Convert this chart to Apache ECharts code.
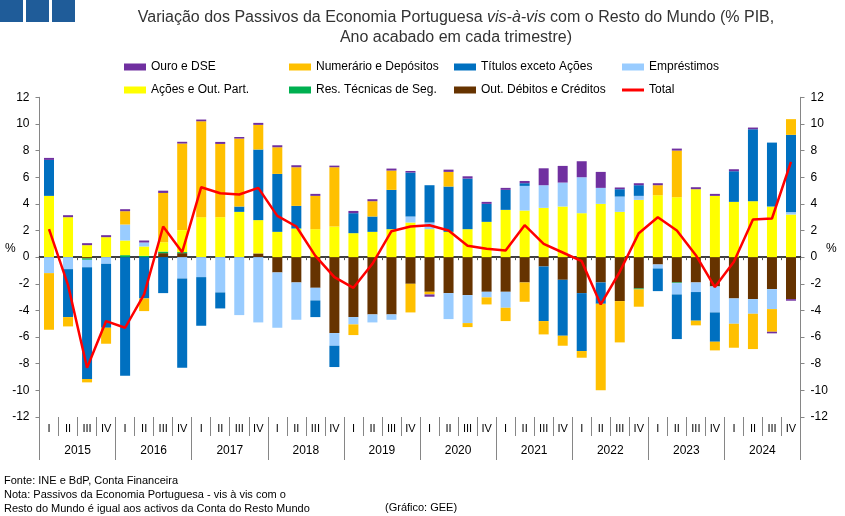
<!DOCTYPE html>
<html>
<head>
<meta charset="utf-8">
<script src="https://cdn.jsdelivr.net/npm/echarts@6/dist/echarts.min.js"></script>
<style>
  html, body { margin: 0; padding: 0; background: #fff; }
  #chart { width: 845px; height: 516px; }
</style>
</head>
<body>
<div id="chart"></div>
<script>
// trimestres e anos
const trimestres = [];
const anos = ['2015', '2016', '2017', '2018', '2019', '2020', '2021', '2022', '2023', '2024'];
anos.forEach(() => { trimestres.push('I', 'II', 'III', 'IV'); });

// valores (% PIB)
const outDebitos = [0, 0, -0.1, 0, 0, 0, 0.3, 0.3, 0, 0,
  0, 0.28, -1.15, -1.9, -2.3, -5.7, -4.5, -4.3, -4.3, -2.0,
  -2.6, -2.7, -2.85, -2.6, -2.6, -1.9, -0.7, -1.7, -2.7, -1.9,
  -3.3, -2.35, -0.55, -1.9, -1.9, -2.2, -3.1, -3.15, -2.4, -3.15];
const resTecnicas = [0, 0, -0.1, 0, 0.15, 0.1, 0.12, 0.08, 0, 0,
  0, 0, 0, 0, 0, 0, 0, 0, 0, 0,
  0, 0, 0, 0, 0, 0, 0, 0, 0, 0,
  0, -0.07, 0, -0.05, 0, 0, 0, 0, 0, 0];
const acoes = [4.6, 3.0, 0.9, 1.5, 1.1, 0.7, 0.7, 1.65, 3.0, 3.0,
  3.4, 2.5, 1.9, 2.15, 2.1, 2.3, 1.8, 1.9, 2.1, 2.6,
  2.1, 1.9, 2.1, 2.65, 3.55, 3.5, 3.7, 3.8, 3.3, 4.0,
  3.4, 4.3, 4.65, 4.5, 5.1, 4.6, 4.15, 4.2, 3.8, 3.2];
const emprestimos = [-1.2, -0.9, -0.55, -0.5, 1.2, 0.3, 0, -1.6, -1.5, -2.65,
  -4.35, -4.9, -4.15, -2.8, -0.95, -0.95, -0.55, -0.6, -0.4, 0.45,
  0.5, -1.95, -2.1, -0.42, -1.2, 1.85, 1.7, 1.8, 2.7, 1.2,
  1.15, 0.3, -0.3, -0.85, -0.72, -1.95, -1.9, -1.1, -1.5, 0.18];
const titulos = [2.7, -3.6, -8.4, -4.8, -8.9, -3.1, -2.7, -6.7, -3.65, -1.2,
  0.4, 5.3, 4.35, 1.7, -1.25, -1.6, 1.5, 1.15, 2.95, 3.3,
  2.8, 3.4, 3.8, 1.35, 1.5, 0.2, -4.1, -4.2, -4.35, -1.6,
  0.55, 0.8, -1.7, -3.35, -2.15, -2.2, 2.3, 5.4, 4.8, 5.8];
const numerario = [-4.25, -0.7, -0.25, -1.2, 1.0, -0.95, 3.7, 6.5, 7.2, 5.5,
  5.1, 1.85, 2.0, 2.9, 2.5, 4.45, -0.8, 1.15, 1.45, -2.15,
  -0.2, 1.1, -0.3, -0.53, -1.0, -1.45, -1.0, -0.75, -0.5, -6.5,
  -3.1, -1.3, 0.75, 3.5, -0.35, -0.65, -1.8, -2.65, -1.7, 1.18];
const ouro = [0.15, 0.15, 0.15, 0.15, 0.15, 0.15, 0.17, 0.13, 0.13, 0.15,
  0.12, 0.15, 0.15, 0.15, 0.15, 0.12, 0.17, 0.15, 0.15, 0.12,
  -0.17, 0.17, 0.17, 0.15, 0.15, 0.17, 1.27, 1.25, 1.2, 1.2,
  0.13, 0.15, 0.15, 0.15, 0.15, 0.15, 0.15, 0.13, -0.12, -0.12];
const total = [2.1, -2.1, -8.3, -4.8, -5.3, -2.8, 2.3, 0.37, 5.25, 4.8,
  4.7, 5.2, 3.1, 2.3, 0.1, -1.5, -2.3, -0.5, 1.95, 2.3,
  2.4, 2.0, 0.85, 0.63, 0.5, 2.4, 1.0, 0.35, -0.3, -3.55,
  -1.1, 1.8, 3.0, 2.0, 0.15, -2.25, -0.35, 2.83, 2.9, 7.15];

const chart = echarts.init(document.getElementById('chart'), null, { renderer: 'canvas' });

const fonte = 'Liberation Sans, Arial, sans-serif';
const cinza = '#868686';

//cria uma série de barras empilhadas
function barra(name, data, color) {
  return {
    name,
    type: 'bar',
    stack: 'p',
    data,
    barWidth: 10,
    itemStyle: { color },
    emphasis: { disabled: true }
  };
}

//eixo y (esquerda/direita)
function eixoY(position) {
  return {
    type: 'value',
    position,
    min: -12,
    max: 12,
    interval: 2,
    axisLine: { show: true, lineStyle: { color: cinza } },
    axisTick: { show: true, length: 4, lineStyle: { color: cinza } },
    axisLabel: { color: '#000', fontSize: 12, fontFamily: fonte, margin: 10 },
    splitLine: { show: false }
  };
}

//uma legenda por item, em grelha fixa de 4 colunas
const colunas = [119, 284, 449, 617];
function legenda(name, col, linha, linhaTotal) {
  return {
    left: colunas[col],
    top: linha === 0 ? 56 : 79,
    itemWidth: 22,
    itemHeight: linhaTotal ? 3 : 7,
    icon: 'rect',
    selectedMode: false,
    textStyle: { color: '#000', fontSize: 12, fontFamily: fonte },
    data: [name]
  };
}

const option = {
  backgroundColor: '#fff',
  animation: false,
  textStyle: { fontFamily: fonte },
  title: {
    text: 'Variação dos Passivos da Economia Portuguesa {i|vis-à-vis} com o Resto do Mundo (% PIB,\nAno acabado em cada trimestre)',
    left: 451,
    textAlign: 'center',
    top: 3,
    textStyle: {
      color: '#333',
      fontSize: 16,
      fontWeight: 'normal',
      fontFamily: fonte,
      lineHeight: 20,
      rich: { i: { fontStyle: 'italic', fontSize: 16, color: '#333', fontFamily: fonte } }
    }
  },
  legend: [
    legenda('Ouro e DSE', 0, 0),
    legenda('Numerário e Depósitos', 1, 0),
    legenda('Títulos exceto Ações', 2, 0),
    legenda('Empréstimos', 3, 0),
    legenda('Ações e Out. Part.', 0, 1),
    legenda('Res. Técnicas de Seg.', 1, 1),
    legenda('Out. Débitos e Créditos', 2, 1),
    legenda('Total', 3, 1, true)
  ],
  grid: { left: 39.5, right: 44.5, top: 97.3, bottom: 99, containLabel: false },
  xAxis: [{
    type: 'category',
    data: trimestres,
    axisLine: { onZero: true, lineStyle: { color: '#000', width: 1.5 } },
    axisTick: { show: true, interval: 0, length: 3, lineStyle: { color: '#555' } },
    axisLabel: { show: false }
  }, {
    type: 'category',
    position: 'bottom',
    data: trimestres,
    axisLine: { show: false, onZero: false },
    axisTick: { show: true, interval: 0, length: 19, lineStyle: { color: cinza } },
    axisLabel: { interval: 0, color: '#000', fontSize: 11, fontFamily: fonte, margin: 6 }
  }, {
    type: 'category',
    position: 'bottom',
    data: anos,
    axisLine: { show: false, onZero: false },
    axisTick: { show: true, interval: 0, length: 43, lineStyle: { color: cinza } },
    axisLabel: { interval: 0, color: '#000', fontSize: 12, fontFamily: fonte, margin: 28 }
  }],
  yAxis: [eixoY('left'), eixoY('right')],
  series: [
    barra('Out. Débitos e Créditos', outDebitos, '#663300'),
    barra('Res. Técnicas de Seg.', resTecnicas, '#00B050'),
    barra('Ações e Out. Part.', acoes, '#FFFF00'),
    barra('Empréstimos', emprestimos, '#99CCFF'),
    barra('Títulos exceto Ações', titulos, '#0070C0'),
    barra('Numerário e Depósitos', numerario, '#FFC000'),
    barra('Ouro e DSE', ouro, '#7030A0'),
    {
      name: 'Total',
      type: 'line',
      data: total,
      symbol: 'none',
      z: 5,
      lineStyle: { color: '#FF0000', width: 2.5 },
      itemStyle: { color: '#FF0000' },
      emphasis: { disabled: true }
    }
  ],
  graphic: [
    {
      type: 'group',
      left: 0,
      top: 0,
      children: [
        { type: 'rect', shape: { x: 0, y: 0, width: 23, height: 22 }, style: { fill: '#1F5C99' } },
        { type: 'rect', shape: { x: 26, y: 0, width: 23, height: 22 }, style: { fill: '#1F5C99' } },
        { type: 'rect', shape: { x: 52, y: 0, width: 23, height: 22 }, style: { fill: '#1F5C99' } }
      ]
    },
    { type: 'text', left: 5, top: 243, style: { text: '%', fill: '#000', font: '12px ' + fonte } },
    { type: 'text', left: 826, top: 243, style: { text: '%', fill: '#000', font: '12px ' + fonte } },
    {
      type: 'text', left: 4, top: 474,
      style: {
        text: 'Fonte: INE e BdP, Conta Financeira\nNota: Passivos da Economia Portuguesa - vis à vis com o\nResto do Mundo é igual aos activos da Conta do Resto Mundo',
        fill: '#000', font: '11px ' + fonte, lineHeight: 14
      }
    },
    { type: 'text', left: 385, top: 502, style: { text: '(Gráfico: GEE)', fill: '#000', font: '11px ' + fonte } }
  ]
};

chart.setOption(option);
</script>
</body>
</html>
